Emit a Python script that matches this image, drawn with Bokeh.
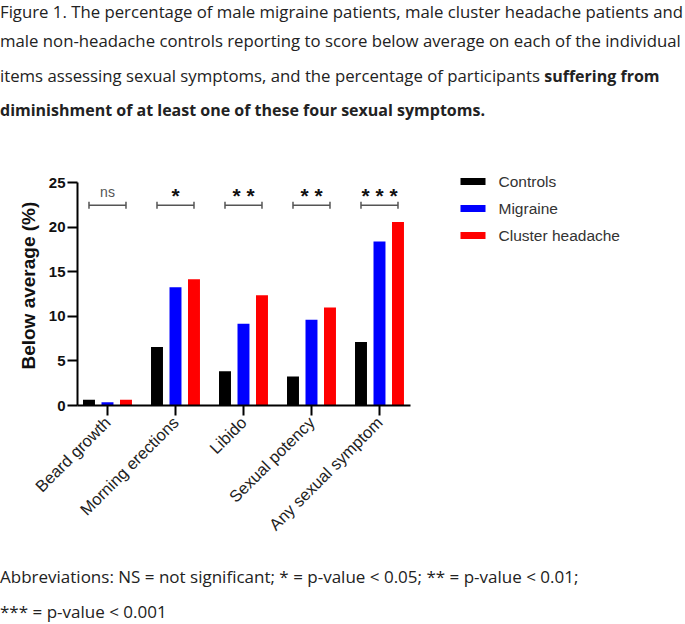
from bokeh.plotting import figure
from bokeh.models import Range1d, FixedTicker, Div
from bokeh.layouts import column, row
from bokeh.embed import file_html
from bokeh.resources import INLINE
from bokeh.core.properties import value

# ---- data ----
categories = ["Beard growth", "Morning erections", "Libido", "Sexual potency", "Any sexual symptom"]
controls = [0.64, 6.55, 3.85, 3.26, 7.11]
migraine = [0.37, 13.25, 9.17, 9.62, 18.38]
cluster = [0.64, 14.15, 12.35, 11.0, 20.58]
series_names = ["Controls", "Migraine", "Cluster headache"]
significance = ["ns", "*", "**", "**", "***"]
y_ticks = [0, 5, 10, 15, 20, 25]

colors = ["#000000", "#0000FF", "#FF0000"]
series = [controls, migraine, cluster]

FONT = "Liberation Sans"
xs = list(range(len(categories)))

PH = 420          # plot row height
TOP = 30          # frame top (px from figure top)
BOT = 275         # frame bottom (px from figure top)
PX_PER_UNIT = 223 / 25.0
y_max = (BOT - TOP) / PX_PER_UNIT

p = figure(width=430, height=PH, output_backend="svg", toolbar_location=None,
           x_range=Range1d(-0.441, 4.456), y_range=Range1d(0, y_max),
           min_border_left=77, min_border_right=20, min_border_top=TOP, min_border_bottom=PH - BOT)
p.outline_line_color = None
p.xgrid.visible = False
p.ygrid.visible = False

offsets = [-0.272, 0.0, 0.272]
for vals, off, col in zip(series, offsets, colors):
    p.vbar(x=[x + off for x in xs], top=vals, width=0.176, bottom=0,
           fill_color=col, line_color=None)

# significance brackets
bracket_y = 22.45
p.segment(x0=[x - 0.272 for x in xs], x1=[x + 0.272 for x in xs],
          y0=[bracket_y] * len(xs), y1=[bracket_y] * len(xs), line_color="#555555", line_width=1.5)
for side in (-0.272, 0.272):
    p.segment(x0=[x + side for x in xs], x1=[x + side for x in xs],
              y0=[bracket_y - 0.4] * len(xs), y1=[bracket_y + 0.4] * len(xs),
              line_color="#555555", line_width=1.5)

ns_x = [x for x, s in zip(xs, significance) if s == "ns"]
ns_t = [s for s in significance if s == "ns"]
st_x = [x for x, s in zip(xs, significance) if s != "ns"]
st_t = [" ".join(s) for s in significance if s != "ns"]
p.text(x=ns_x, y=[23.95] * len(ns_x), text=ns_t, text_align="center", text_baseline="alphabetic",
       text_font=value(FONT), text_font_size="14px", text_color="#555555")
p.text(x=st_x, y=[23.55] * len(st_x), text=st_t, text_align="center", text_baseline="alphabetic",
       text_font=value(FONT), text_font_size="21px", text_font_style="bold", text_color="#111111")

# axes
xa = p.xaxis[0]
xa.ticker = FixedTicker(ticks=xs)
xa.major_label_overrides = {i: c for i, c in zip(xs, categories)}
xa.major_label_orientation = 0.785398
xa.major_label_text_font = FONT
xa.major_label_text_font_size = "16.5px"
xa.major_label_text_color = "#222222"
xa.major_label_standoff = 4
xa.major_tick_out = 10
xa.major_tick_in = 0
xa.minor_tick_out = 0
xa.minor_tick_in = 0
xa.axis_line_width = 2
xa.major_tick_line_width = 2

ya = p.yaxis[0]
ya.ticker = FixedTicker(ticks=y_ticks)
ya.bounds = (0, 25)
ya.major_tick_out = 10
ya.major_tick_in = 0
ya.minor_tick_out = 0
ya.minor_tick_in = 0
ya.axis_line_width = 2
ya.major_tick_line_width = 2
ya.major_label_text_font = FONT
ya.major_label_text_font_size = "15px"
ya.major_label_text_font_style = "bold"
ya.major_label_text_color = "#111111"
ya.major_label_standoff = 2
ya.axis_label = "Below average  (%)"
ya.axis_label_text_font = FONT
ya.axis_label_text_font_size = "19px"
ya.axis_label_text_font_style = "bold"
ya.axis_label_text_color = "#111111"
ya.axis_label_standoff = 7

# legend panel (separate figure to the right; ranges in pixels from the figure top-left)
LW = 255
leg = figure(width=LW, height=PH, output_backend="svg", toolbar_location=None,
             x_range=Range1d(0, LW), y_range=Range1d(BOT, TOP),
             min_border_left=0, min_border_right=0, min_border_top=TOP, min_border_bottom=PH - BOT)
leg.axis.visible = False
leg.grid.visible = False
leg.outline_line_color = None
item_y = [51 + 27 * i for i in range(len(series_names))]
leg.rect(x=[42.5] * len(series_names), y=item_y, width=25, height=7,
         fill_color=colors, line_color=None)
leg.text(x=[68] * len(series_names), y=item_y, text=series_names, text_align="left",
         text_baseline="middle", text_font=value(FONT), text_font_size="15.5px", text_color="#333333")

B = '<b style="font-size:16px">'
title_html = (
    '<div style="white-space:nowrap;font-family:\'Open Sans\';font-size:16.75px;color:#222222">'
    '<div style="line-height:24px">'
    'Figure 1. The percentage of male migraine patients, male cluster headache patients and</div>'
    '<div style="line-height:34.5px">'
    'male non-headache controls reporting to score below average on each of the individual<br>'
    'items assessing sexual symptoms, and the percentage of participants ' + B + 'suffering from</b><br>'
    + B + 'diminishment of at least one of these four sexual symptoms.</b></div></div>'
)
foot_html = (
    '<div style="margin-top:8.5px;line-height:35px;white-space:nowrap;'
    'font-family:\'Open Sans\';font-size:17px;color:#222222">'
    'Abbreviations: NS = not significant; * = p-value &lt; 0.05; ** = p-value &lt; 0.01;<br>'
    '*** = p-value &lt; 0.001</div>'
)
title_div = Div(text=title_html, width=685, height=130, margin=0)
foot_div = Div(text=foot_html, width=685, height=74, margin=0)

layout = column(title_div, row(p, leg, spacing=0), foot_div, spacing=0)
open("out.html", "w").write(file_html(layout, INLINE))
